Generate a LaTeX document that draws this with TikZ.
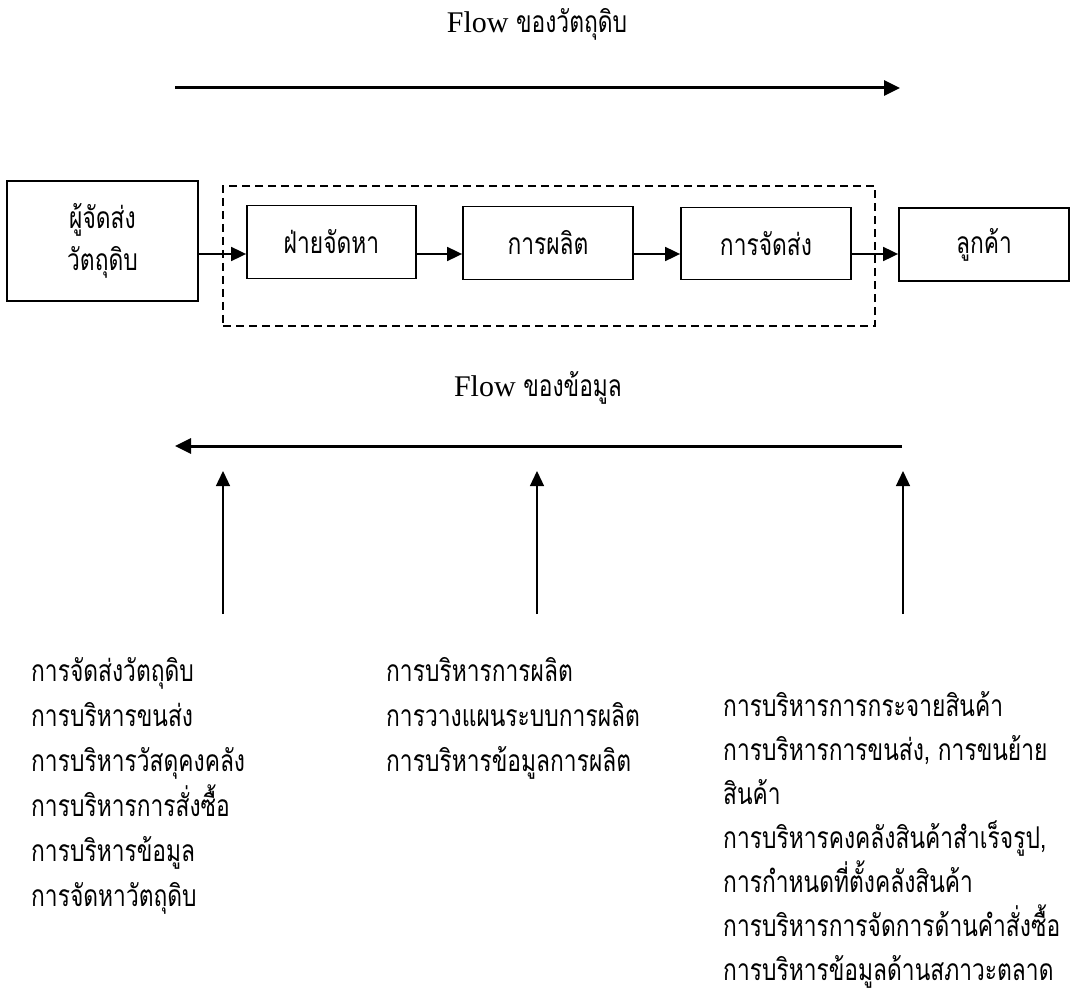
\documentclass[tikz,border=0pt]{standalone}
\usepackage{fontspec}
\setmainfont{Liberation Serif}
\newfontfamily\thai[Script=Thai,FakeStretch=0.76]{Loma}
\usetikzlibrary{arrows.meta}
\tikzset{
  thaifont/.style={font=\thai\fontsize{30}{42}\selectfont},
  box/.style={draw, line width=1.8pt, inner sep=0pt, align=center, thaifont},
  flowarr/.style={line width=3pt, -{Triangle[length=16pt,width=15pt]}},
  linkarr/.style={line width=1.8pt, -{Triangle[length=15pt,width=14pt]}},
  uparr/.style={line width=1.3pt, -{Triangle[length=15pt,width=14pt]}},
  title/.style={anchor=base, inner sep=0pt, font=\fontsize{30}{34}\selectfont},
  listtxt/.style={anchor=base west, inner sep=0pt, thaifont},
}
\begin{document}
\begin{tikzpicture}[x=1pt,y=-1pt]
\path[use as bounding box, fill=white] (0,0) rectangle (1071,995);

% titles
\node[title] (t1) at (537,33) {Flow {\thai ของวัตถุดิบ}};
\node[title] (t2) at (538,396) {Flow {\thai ของข้อมูล}};

% material flow arrow
\coordinate (m1) at (175,88);
\coordinate (m2) at (900,88);
\draw[flowarr] (m1) -- (m2);

% dashed boundary
\node[draw, line width=1.8pt, dash pattern=on 8pt off 5pt, minimum width=652pt, minimum height=140pt, inner sep=0pt] (frame) at (549,256) {};

% boxes
\node[box, minimum width=191pt, minimum height=120pt] (sup) at (102.5,241) {ผู้จัดส่ง\\วัตถุดิบ};
\node[box, minimum width=169pt, minimum height=73pt] (b1) at (331.5,242) {ฝ่ายจัดหา};
\node[box, minimum width=170pt, minimum height=73pt] (b2) at (548,243) {การผลิต};
\node[box, minimum width=170pt, minimum height=72pt] (b3) at (766,243.5) {การจัดส่ง};
\node[box, minimum width=170pt, minimum height=73pt] (b4) at (984,244.5) {ลูกค้า};

\coordinate (ay) at (0,254);
\draw[linkarr] (sup.east |- ay) -- (b1.west |- ay);
\draw[linkarr] (b1.east |- ay) -- (b2.west |- ay);
\draw[linkarr] (b2.east |- ay) -- (b3.west |- ay);
\draw[linkarr] (b3.east |- ay) -- (b4.west |- ay);

% information flow arrow
\coordinate (i1) at (902,446);
\coordinate (i2) at (175,446);
\draw[flowarr] (i1) -- (i2);

% upward arrows
\coordinate (u1b) at (223,614); \coordinate (u1t) at (223,471);
\coordinate (u2b) at (537,614); \coordinate (u2t) at (537,471);
\coordinate (u3b) at (903,614); \coordinate (u3t) at (903,471);
\draw[uparr] (u1b) -- (u1t);
\draw[uparr] (u2b) -- (u2t);
\draw[uparr] (u3b) -- (u3t);

% lists
\foreach \t [count=\i from 0] in {การจัดส่งวัตถุดิบ,การบริหารขนส่ง,การบริหารวัสดุคงคลัง,การบริหารการสั่งซื้อ,การบริหารข้อมูล,การจัดหาวัตถุดิบ}
  \node[listtxt] (la\i) at (31,681+45*\i) {\t};
\foreach \t [count=\i from 0] in {การบริหารการผลิต,การวางแผนระบบการผลิต,การบริหารข้อมูลการผลิต}
  \node[listtxt] (lb\i) at (386,681+45*\i) {\t};
\foreach \t [count=\i from 0] in {การบริหารการกระจายสินค้า,{การบริหารการขนส่ง, การขนย้าย},สินค้า,{การบริหารคงคลังสินค้าสำเร็จรูป,},การกำหนดที่ตั้งคลังสินค้า,การบริหารการจัดการด้านคำสั่งซื้อ,การบริหารข้อมูลด้านสภาวะตลาด}
  \node[listtxt] (lc\i) at (723,716+44*\i) {\t};
\end{tikzpicture}
\end{document}
